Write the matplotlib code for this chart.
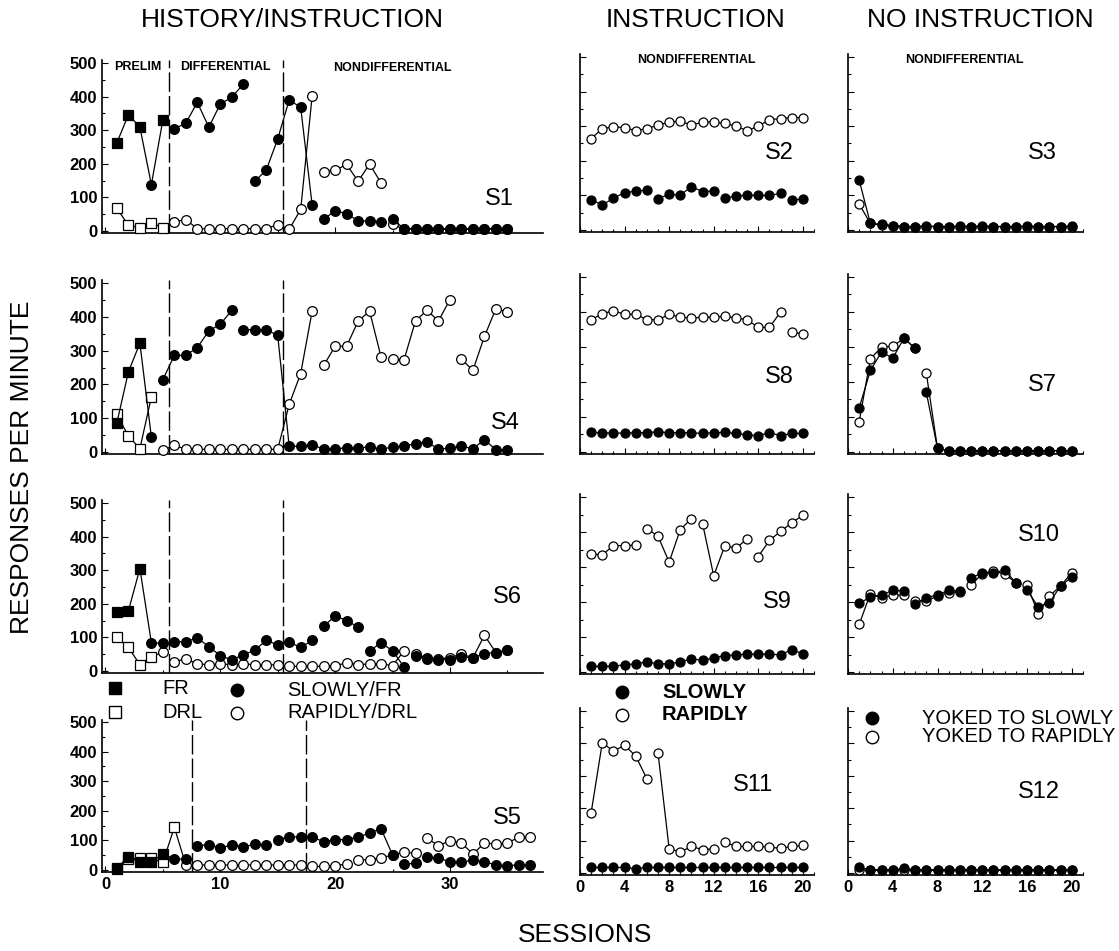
import numpy as np
import matplotlib.pyplot as plt
from matplotlib.ticker import MultipleLocator, NullFormatter

plt.rcParams['font.family'] = ['Liberation Sans', 'DejaVu Sans']

# ---------------- data (responses per minute) ----------------
# prelim sessions start at session 1; shapes: s = square, o = circle
s1_fr = [263, 346, 309, 138, 331]
s1_fr_shape = 'sssos'
s1_drl = [67, 17, 10, 24, 10]
s1_drl_shape = 'sssss'
s1_slow = [(6, [304, 321, 383, 309, 378, 398, 437]),
           (13, [148, 181, 274, 390, 368, 77]),
           (19, [35, 60, 52, 30, 30, 27]),
           (25, [35, 7, 7, 7, 7, 7, 7, 7, 7, 7, 7])]
s1_rapid = [(6, [27, 34, 7, 7, 7, 7, 7, 7, 7, 19, 5, 64, 402]),
            (19, [176, 181, 198, 148, 199, 143]),
            (25, [20, 5, 5, 5, 5, 5, 5, 5, 5, 5, 5])]
s1_phase = [5.5, 15.5]

s4_fr = [87, 237, 322, 44]
s4_fr_shape = 'ssso'
s4_drl = [111, 47, 10, 163]
s4_drl_shape = 'ssss'
s4_slow = [(5, [214, 286, 286, 309, 358, 378, 419]),
           (12, [362, 362, 362, 345, 17, 17, 22, 8, 10, 12, 12, 15, 8, 15,
                 17, 25, 30, 8, 12, 17, 10, 36, 7, 7])]
s4_rapid = [(5, [5, 20, 8, 8, 8, 8, 8, 8, 8, 8, 8, 141, 232, 417]),
            (19, [256, 313, 313, 387, 417, 281]),
            (25, [276, 273, 388, 419, 388, 451]),
            (31, [274, 242, 342, 424, 414])]
s4_phase = [5.5, 15.5]

s6_fr = [175, 179, 305, 84, 82]
s6_fr_shape = 'sssoo'
s6_drl = [101, 70, 19, 41, 57]
s6_drl_shape = 'sssso'
s6_slow = [(6, [87, 87, 99, 72, 46, 33, 48, 62, 91, 78, 86, 70, 91]),
           (19, [133, 164, 150, 131]),
           (23, [60, 84, 60, 12]),
           (27, [44, 36, 34, 34, 43, 39, 52, 55, 62])]
s6_rapid = [(6, [28, 36, 21, 19, 21, 19, 21, 19, 19, 18, 14, 14, 14, 14, 16,
                 24, 19, 21, 21, 16, 60]),
            (27, [50, 40, 36, 40, 50, 40, 106, 55, 62])]
s6_phase = [5.5, 15.5]

s5_fr = [7, 45, 26, 28, 54, 37, 37]
s5_fr_shape = 'sssssoo'
s5_drl = [5, 37, 40, 40, 26, 144, 17]
s5_drl_shape = 'sssssso'
s5_slow = [(8, [82, 86, 74, 85, 77, 88, 85]),
           (15, [102, 113, 111, 111, 96, 102, 103, 111, 125, 139, 51]),
           (26, [20, 23]),
           (28, [43, 40, 28, 26, 34, 28, 17, 15, 17, 18])]
s5_rapid = [(8, [17, 17, 17, 17, 17, 17, 17, 17, 17, 17, 12, 12, 15, 20]),
            (22, [34, 35, 41, 51, 60, 56]),
            (28, [107, 82, 99, 91, 54, 91, 88, 91, 111, 111])]
s5_phase = [7.5, 17.5]

# instruction group
s2_slow = [(1, [88, 72, 92, 108, 112, 115]), (7, [91, 103, 101, 125, 111, 113]),
           (13, [92, 98, 101, 100, 100, 106]), (19, [88, 89])]
s2_rapid = [(1, [264, 293, 298, 296, 287, 293, 303, 312, 315, 303, 312, 312,
                 308, 300, 287, 300, 319, 322, 325, 325])]
s8_slow = [(1, [56, 55, 54, 54, 55, 55, 58, 55, 55, 55, 53, 55, 56, 53, 49, 47,
                55, 47, 53, 53])]
s8_rapid = [(1, [378, 395, 404, 393, 394, 378, 378, 393, 385, 383, 385, 385,
                 388, 383, 378, 356, 356, 400]), (19, [344, 336])]
s9_slow = [(1, [16, 16, 16, 21, 23, 29, 23, 24, 28, 38, 33, 40, 47, 49, 51, 51,
                51, 49, 64, 52])]
s9_rapid = [(1, [337, 335, 361, 361, 363]), (6, [410, 388, 314, 407, 438]),
            (11, [424, 275, 361, 354, 380]), (16, [330, 376, 402, 426, 448])]
s11_slow = [(1, [17, 17, 17, 17, 13, 17, 17, 17, 17, 17, 17, 17, 17, 17, 17,
                 17, 17, 17, 17, 17])]
s11_rapid = [(1, [186, 402, 376, 394, 361, 291]), (7, [371, 75, 65, 82, 72, 75]),
             (13, [95, 82, 82, 82, 80, 76, 82, 85])]

# no instruction (yoked) group
s3_slow = [(1, [144, 19, 16, 13, 10, 10, 12, 10, 10, 11, 10, 12, 10, 10, 10,
                11, 10, 10, 10, 11])]
s3_rapid = [(1, [75, 19, 14, 12, 10, 10, 10, 10, 10, 10, 10, 10, 10, 10, 10,
                 10, 10, 10, 10, 10])]
s7_slow = [(1, [126, 233, 286, 268, 325, 296]),
           (7, [170, 10, 4, 4, 4, 4, 4, 4, 4, 4, 4, 4, 4, 4])]
s7_rapid = [(1, [87, 266, 300, 302, 325, 296]),
            (7, [225, 10, 4, 4, 4, 4, 4, 4, 4, 4, 4, 4, 4, 4])]
s10_slow = [(1, [196, 214, 219, 234, 231]), (6, [195, 212, 221, 233, 231]),
            (11, [270, 282, 284, 291, 255]), (16, [234, 186, 198, 246, 271])]
s10_rapid = [(1, [136, 224, 212, 219, 220]), (6, [203, 203, 217, 227, 229]),
             (11, [248, 281, 289, 279, 255]), (16, [248, 167, 217, 246, 284])]
s12_slow = [(1, [17, 10, 10, 10, 14, 10, 10, 10, 10, 10, 10, 10, 10, 10, 10,
                 10, 10, 10, 10, 10])]
s12_rapid = [(1, [10, 8, 8, 8, 10, 8, 8, 8, 8, 8, 8, 8, 8, 8, 8, 8, 8, 8, 8, 8])]

# ---------------- figure ----------------
W, H = 1119, 951
fig = plt.figure(figsize=(W / 100, H / 100), dpi=100)


def px(x, y):
    return x / W, 1 - y / H


def make_ax(x0, x1, y0, y500, xlim):
    lo, hi = -6, 508
    k = (y0 - y500) / 500
    top = y500 - (hi - 500) * k
    bot = y0 - lo * k
    ax = fig.add_axes([x0 / W, 1 - bot / H, (x1 - x0) / W, (bot - top) / H])
    ax.set_xlim(*xlim)
    ax.set_ylim(lo, hi)
    ax.spines['top'].set_visible(False)
    ax.spines['right'].set_visible(False)
    ax.spines['left'].set_linewidth(1.2)
    ax.spines['bottom'].set_linewidth(1.2)
    ax.yaxis.set_major_locator(MultipleLocator(100))
    ax.yaxis.set_minor_locator(MultipleLocator(50))
    ax.tick_params(which='both', direction='in', width=0.8)
    ax.tick_params(which='major', length=4)
    ax.tick_params(which='minor', length=2)
    ax.tick_params(labelsize=12)
    for t in ax.get_yticklabels():
        t.set_fontweight('bold')
    ax.set_facecolor('none')
    return ax


def series(ax, segs, filled, ms):
    for start, vals in segs:
        x = np.arange(start, start + len(vals))
        ax.plot(x, vals, '-', color='k', lw=0.9, marker='o', ms=ms,
                mfc='k' if filled else 'white', mec='k', mew=0.9,
                clip_on=False, zorder=4 if filled else 3)


def prelim(ax, vals, shapes, filled, ms):
    x = np.arange(1, len(vals) + 1)
    ax.plot(x, vals, '-', color='k', lw=0.9, clip_on=False, zorder=3)
    for xi, v, sh in zip(x, vals, shapes):
        ax.plot(xi, v, marker='s' if sh == 's' else 'o', ms=ms,
                mfc='k' if filled else 'white', mec='k', mew=0.9,
                clip_on=False, zorder=4 if filled else 3)


def phases(ax, xs):
    for xv in xs:
        ax.axvline(xv, color='k', lw=1.0, ls=(0, (14, 3)), zorder=2)


LX = (102, 543)
MX = (580, 814)
RX = (848, 1083)
left_rows = [(231, 63), (452, 283), (671, 503), (870, 722)]
side_rows = [(230, 57), (452, 277), (672, 497), (873, 711)]

left_data = [
    (s1_fr, s1_fr_shape, s1_drl, s1_drl_shape, s1_slow, s1_rapid, s1_phase, 'S1', (34.3, 95)),
    (s4_fr, s4_fr_shape, s4_drl, s4_drl_shape, s4_slow, s4_rapid, s4_phase, 'S4', (34.8, 86)),
    (s6_fr, s6_fr_shape, s6_drl, s6_drl_shape, s6_slow, s6_rapid, s6_phase, 'S6', (35.0, 220)),
    (s5_fr, s5_fr_shape, s5_drl, s5_drl_shape, s5_slow, s5_rapid, s5_phase, 'S5', (35.0, 176)),
]

for i, (fr, frs, drl, drls, slow, rapid, ph, name, pos) in enumerate(left_data):
    y0, y5 = left_rows[i]
    ax = make_ax(LX[0], LX[1], y0, y5, (-0.3, 38.1))
    phases(ax, ph)
    prelim(ax, drl, drls, False, 7)
    prelim(ax, fr, frs, True, 7)
    series(ax, rapid, False, 7)
    series(ax, slow, True, 7)
    ax.xaxis.set_major_locator(MultipleLocator(10))
    ax.xaxis.set_minor_locator(MultipleLocator(5))
    if i < 3:
        ax.xaxis.set_major_formatter(NullFormatter())
    else:
        for t in ax.get_xticklabels():
            t.set_fontweight('bold')
    ax.text(pos[0], pos[1], name, fontsize=17, ha='center', va='center')
    if i == 0:
        ax.text(2.8, 487, 'PRELIM', fontsize=9, fontweight='bold', ha='center', va='center')
        ax.text(10.4, 487, 'DIFFERENTIAL', fontsize=9, fontweight='bold', ha='center', va='center')
        ax.text(25.0, 484, 'NONDIFFERENTIAL', fontsize=9, fontweight='bold', ha='center', va='center')

mid_data = [(s2_slow, s2_rapid, 'S2', (17.9, 222)),
            (s8_slow, s8_rapid, 'S8', (17.9, 214)),
            (s9_slow, s9_rapid, 'S9', (17.7, 200)),
            (s11_slow, s11_rapid, 'S11', (15.5, 272))]
right_data = [(s3_slow, s3_rapid, 'S3', (17.4, 222)),
              (s7_slow, s7_rapid, 'S7', (17.4, 191)),
              (s10_slow, s10_rapid, 'S10', (17.1, 391)),
              (s12_slow, s12_rapid, 'S12', (17.1, 250))]

for cols, data in ((MX, mid_data), (RX, right_data)):
    for i, (slow, rapid, name, pos) in enumerate(data):
        y0, y5 = side_rows[i]
        ax = make_ax(cols[0], cols[1], y0, y5, (0, 21))
        ax.yaxis.set_major_formatter(NullFormatter())
        series(ax, rapid, False, 6.5)
        series(ax, slow, True, 6.5)
        ax.xaxis.set_major_locator(MultipleLocator(4))
        ax.xaxis.set_minor_locator(MultipleLocator(1))
        if i < 3:
            ax.xaxis.set_major_formatter(NullFormatter())
        else:
            for t in ax.get_xticklabels():
                t.set_fontweight('bold')
        ax.text(pos[0], pos[1], name, fontsize=17, ha='center', va='center')
        if i == 0:
            ax.text(10.4, 490, 'NONDIFFERENTIAL', fontsize=9, fontweight='bold',
                    ha='center', va='center')

# ---------------- titles and labels ----------------
fig.text(*px(292, 20), 'HISTORY/INSTRUCTION', fontsize=19, ha='center', va='center')
fig.text(*px(695, 20), 'INSTRUCTION', fontsize=19, ha='center', va='center')
fig.text(*px(980, 20), 'NO INSTRUCTION', fontsize=19, ha='center', va='center')
fig.text(*px(585, 935), 'SESSIONS', fontsize=19, ha='center', va='center')
fig.text(*px(22, 467), 'RESPONSES PER MINUTE', fontsize=19, ha='center',
         va='center', rotation=90)


def legend_item(x, y, marker, filled, label, tx, bold=False):
    fig.add_artist(plt.Line2D([x / W], [1 - y / H], transform=fig.transFigure,
                              marker=marker, ms=9, mfc='k' if filled else 'white',
                              mec='k', mew=1.0, ls='none'))
    fig.text(*px(tx, y), label, fontsize=14.5, ha='left', va='center',
             fontweight='bold' if bold else 'normal')


legend_item(115, 688, 's', True, 'FR', 162)
legend_item(237, 690, 'o', True, 'SLOWLY/FR', 287)
legend_item(115, 712, 's', False, 'DRL', 162)
legend_item(237, 713, 'o', False, 'RAPIDLY/DRL', 287)
legend_item(622, 692, 'o', True, 'SLOWLY', 662, bold=True)
legend_item(622, 715, 'o', False, 'RAPIDLY', 662, bold=True)
legend_item(872, 718, 'o', True, 'YOKED TO SLOWLY', 922)
legend_item(872, 737, 'o', False, 'YOKED TO RAPIDLY', 922)

fig.savefig('out.png', dpi=100)
